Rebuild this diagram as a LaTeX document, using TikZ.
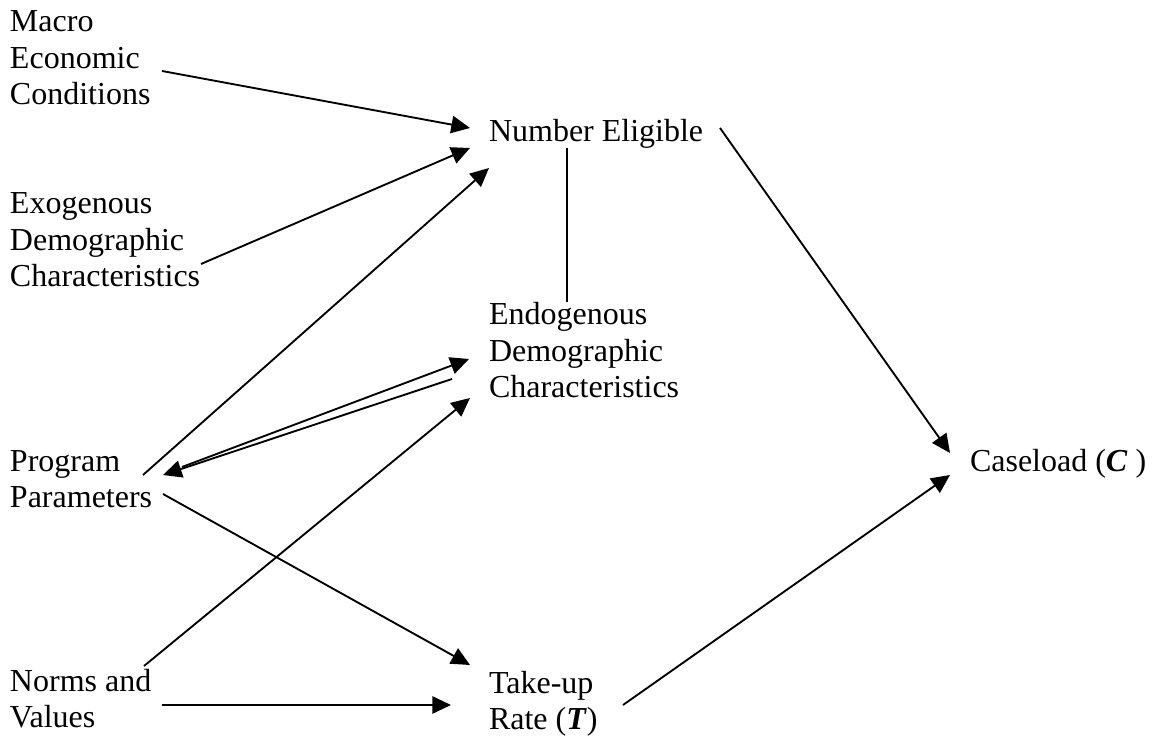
\documentclass[tikz,border=0pt]{standalone}
\usepackage{fontspec}
\setmainfont{Liberation Serif}
\usetikzlibrary{arrows.meta}
\begin{document}
\begin{tikzpicture}[x=0.375pt,y=-0.375pt,
  lbl/.style={anchor=base west,inner sep=0pt,outer sep=0pt,align=left,
    font=\fontsize{12pt}{13.7pt}\selectfont},
  conn/.style={line width=0.7pt},
  arr/.style={conn,-{Triangle[length=7pt,width=6.5pt]}}]
\useasboundingbox (0,0) rectangle (1152,740);
% base west = baseline of the last line
\node[lbl] (macro) at (10,105) {Macro\\Economic\\Conditions};
\node[lbl] (exo) at (10,287) {Exogenous\\Demographic\\Characteristics};
\node[lbl] (pp) at (10,508) {Program\\Parameters};
\node[lbl] (norms) at (10,728) {Norms and\\Values};
\node[lbl] (ne) at (489,142) {Number Eligible};
\node[lbl] (endo) at (489,398) {Endogenous\\Demographic\\Characteristics};
\node[lbl] (tu) at (489,730) {Take-up\\Rate (\textbf{\textit{T}})};
\node[lbl] (cl) at (970,472) {Caseload (\textbf{\textit{C}} )};
% connectors
\draw[arr] ([shift={(152,-34)}]macro.base west) -- ([shift={(-19,-14)}]ne.base west);
\draw[arr] ([shift={(191,-23)}]exo.base west) -- ([shift={(-19,6)}]ne.base west);
\draw[arr] ([shift={(133,-33)}]pp.base west) -- ([shift={(0,26)}]ne.base west);
\draw[arr] ([shift={(172,-41)}]pp.base west) -- ([shift={(-20,-39)}]endo.base west);
\draw[arr] ([shift={(-37,-19)}]endo.base west) -- ([shift={(153,-33)}]pp.base west);
\draw[arr] ([shift={(134,-62)}]norms.base west) -- ([shift={(-19,0)}]endo.base west);
\draw[arr] ([shift={(153,-14)}]pp.base west) -- ([shift={(-19,-65)}]tu.base west);
\draw[arr] ([shift={(152,-23)}]norms.base west) -- ([shift={(-38,-25)}]tu.base west);
\draw[conn] ([shift={(78,6)}]ne.base west) -- ([shift={(78,-96)}]endo.base west);
\draw[arr] ([shift={(231,-14)}]ne.base west) -- ([shift={(-20,-19)}]cl.base west);
\draw[arr] ([shift={(134,-25)}]tu.base west) -- ([shift={(-20,3)}]cl.base west);
\end{tikzpicture}
\end{document}
